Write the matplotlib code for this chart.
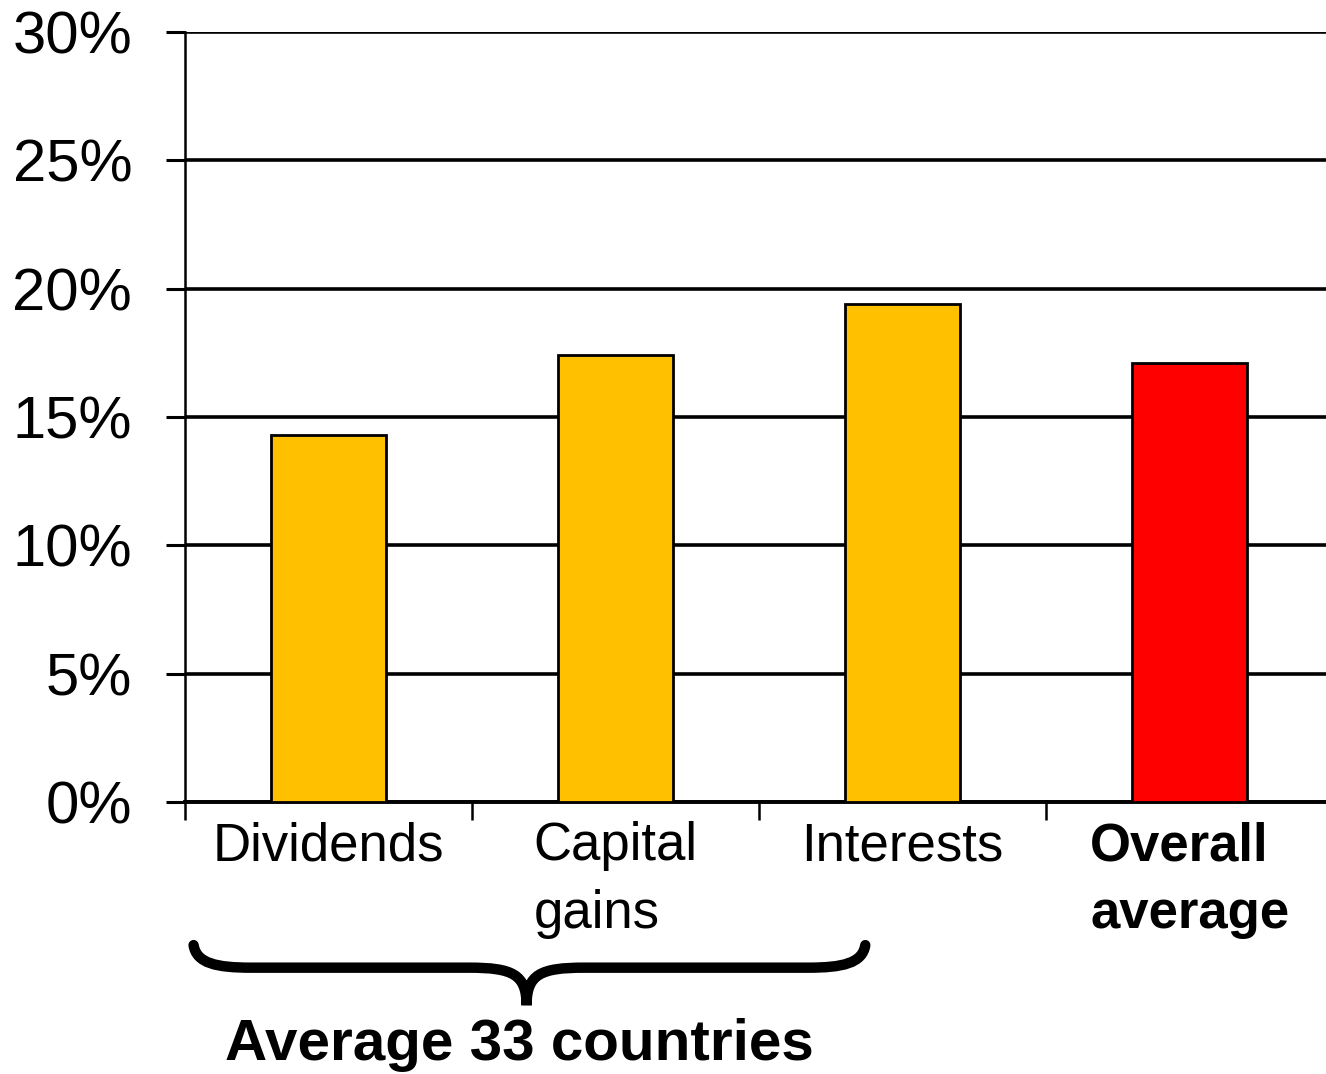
import matplotlib.pyplot as plt
from matplotlib.path import Path
from matplotlib.patches import PathPatch
import matplotlib.transforms as mtransforms
from matplotlib.ticker import FuncFormatter, FixedLocator

# Daten
categories = ['Dividends', 'Capital\ngains', 'Interests', 'Overall\naverage']
values = [14.3, 17.4, 19.4, 17.1]
colors = ['#FFC000', '#FFC000', '#FFC000', '#FF0000']
yticks = [0, 5, 10, 15, 20, 25, 30]
group_label = 'Average 33 countries'

narrow = ['Liberation Sans Narrow', 'Liberation Sans', 'DejaVu Sans']
regular = ['Liberation Sans', 'Arial', 'DejaVu Sans']

fig = plt.figure(figsize=(13.26, 10.74), dpi=100)
ax = fig.add_axes([0.1395, 0.2533, 0.8605, 0.7169])

x = list(range(len(categories)))
ax.bar(x, values, width=0.4, color=colors, edgecolor='black', linewidth=2, zorder=3)

ax.set_xlim(-0.5, 3.475)
ax.set_ylim(0, 30)

# Gitter
ax.yaxis.set_major_locator(FixedLocator(yticks))
ax.yaxis.set_major_formatter(FuncFormatter(lambda v, p: f'{v:.0f}%'))
ax.grid(axis='y', color='black', linewidth=2.6, zorder=0)
ax.tick_params(axis='y', length=14, width=2.2, pad=24, labelsize=43)
for lab in ax.get_yticklabels():
    lab.set_family(regular)
    lab.set_verticalalignment('center_baseline')

# Kategorie-Grenzen als Ticks
ax.set_xticks([i - 0.5 for i in x])
ax.set_xticklabels([])
ax.tick_params(axis='x', length=13, width=1.8, direction='out')
ax.set_xticks(x, minor=True)
ax.set_xticklabels(categories, minor=True)
ax.tick_params(axis='x', which='minor', length=0, pad=14, labelsize=38)
for i, lab in enumerate(ax.get_xticklabels(minor=True)):
    lab.set_family(narrow)
    lab.set_verticalalignment('top')
    lab.set_multialignment('left')
    lab.set_linespacing(1.45)
    if i == 3:
        lab.set_fontweight('bold')

for s in ['top', 'right']:
    ax.spines[s].set_visible(False)
ax.spines['left'].set_linewidth(1.8)
ax.spines['bottom'].set_linewidth(2.8)

# geschweifte Klammer unter den drei ersten Kategorien
trans = mtransforms.blended_transform_factory(ax.transData, fig.transFigure)
x0, x1, xc = -0.47, 1.87, 0.69
top, mid, bot = 0.120, 0.099, 0.064
c = 0.2
verts = [
    (x0, top), (x0 + 0.01, mid + 0.004), (x0 + 0.08, mid), (x0 + c, mid),
    (xc - c, mid),
    (xc - 0.05, mid), (xc, mid - 0.006), (xc, bot),
    (xc, mid - 0.006), (xc + 0.05, mid), (xc + c, mid),
    (x1 - c, mid),
    (x1 - 0.08, mid), (x1 - 0.01, mid + 0.004), (x1, top),
]
codes = [Path.MOVETO, Path.CURVE4, Path.CURVE4, Path.CURVE4,
         Path.LINETO,
         Path.CURVE4, Path.CURVE4, Path.CURVE4,
         Path.CURVE4, Path.CURVE4, Path.CURVE4,
         Path.LINETO,
         Path.CURVE4, Path.CURVE4, Path.CURVE4]
brace = PathPatch(Path(verts, codes), transform=trans, facecolor='none',
                  edgecolor='black', linewidth=7.5, capstyle='round', clip_on=False)
fig.add_artist(brace)

fig.text(0.392, 0.027, group_label, transform=fig.transFigure, ha='center', va='center',
         fontsize=42, fontweight='bold', family=regular)

fig.savefig('out.png', dpi=100)
